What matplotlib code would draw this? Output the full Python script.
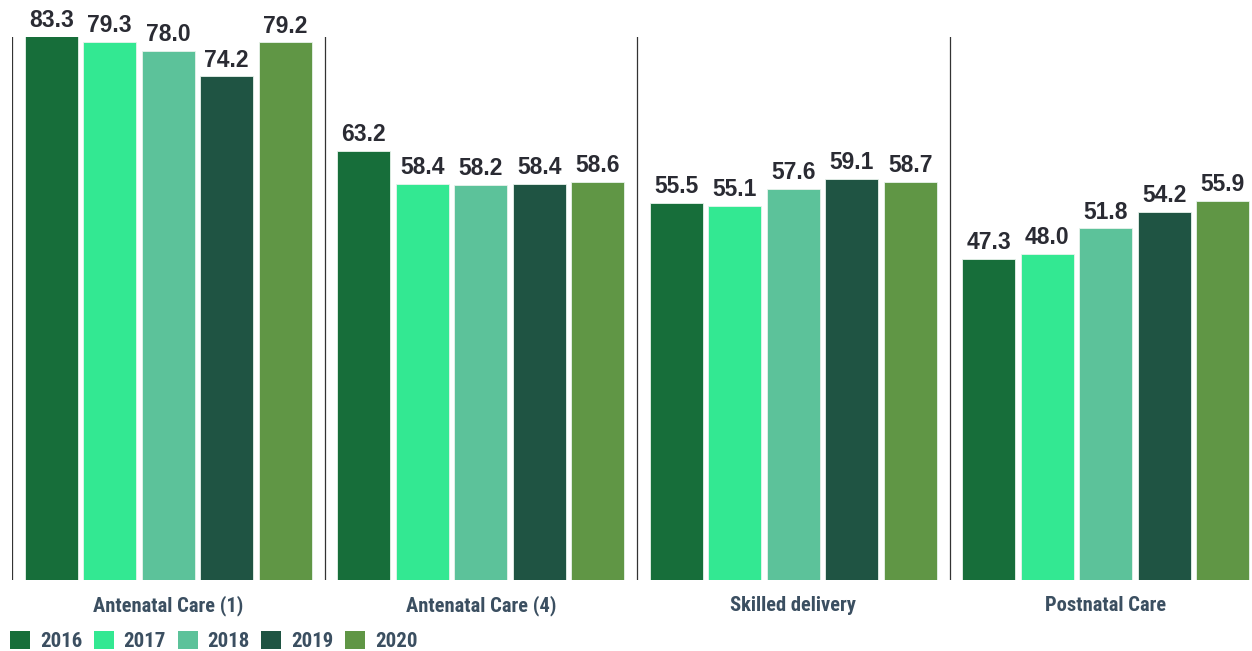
import matplotlib
matplotlib.use("Agg")
import matplotlib.pyplot as plt
from matplotlib.patches import Patch
import numpy as np

categories = ["Antenatal Care (1)", "Antenatal Care (4)", "Skilled delivery", "Postnatal Care"]
years = ["2016", "2017", "2018", "2019", "2020"]
v2016 = [83.3, 63.2, 55.5, 47.3]
v2017 = [79.3, 58.4, 55.1, 48.0]
v2018 = [78.0, 58.2, 57.6, 51.8]
v2019 = [74.2, 58.4, 59.1, 54.2]
v2020 = [79.2, 58.6, 58.7, 55.9]
series = [v2016, v2017, v2018, v2019, v2020]
colors = ["#176e3a", "#33e892", "#5cc29a", "#1f5443", "#609645"]

YMAX = 80
W, H = 1252, 651
fig = plt.figure(figsize=(W / 100, H / 100), dpi=100)
ax = fig.add_axes([12 / W, (H - 580) / H, 1250 / W, 543 / H])

narrow = ["Liberation Sans Narrow", "Roboto Condensed", "DejaVu Sans"]
valfont = ["Liberation Sans", "DejaVu Sans"]
label_col = "#3b4f61"
val_col = "#2a2b33"

x = np.arange(len(categories))
step = 0.187
bw = 0.170
for i, (vals, c) in enumerate(zip(series, colors)):
    pos = x + (i - 2) * step
    ax.bar(pos, vals, width=bw, color=c, edgecolor="#e8f3ec", linewidth=0.6, label=years[i])
    for p, v in zip(pos, vals):
        ax.annotate(f"{v:.1f}", (p, min(v, YMAX)), xytext=(0, 3.5), textcoords="offset points",
                    ha="center", va="bottom", fontsize=16.5, fontweight="bold",
                    color=val_col, family=valfont, annotation_clip=False)

for s in np.arange(-0.5, len(categories)):
    ax.axvline(s, color="#333333", linewidth=0.9)

for xi, cat in zip(x, categories):
    ax.annotate(cat, (xi, 0), xytext=(0, -18.5), textcoords="offset points",
                ha="center", va="center", fontsize=14.8, fontweight="bold",
                color=label_col, family=narrow, annotation_clip=False)

ax.set_xlim(-0.5, len(categories) - 0.5)
ax.set_ylim(0, YMAX)
for sp in ax.spines.values():
    sp.set_visible(False)
ax.set_xticks([])
ax.set_yticks([])

handles = [Patch(facecolor=c, edgecolor="none") for c in colors]
leg = fig.legend(handles, years, loc="center left", bbox_to_anchor=(10 / W, 10 / H),
                 ncol=5, frameon=False, handlelength=0.96, handleheight=0.96,
                 handletextpad=0.47, columnspacing=0.56, borderpad=0, borderaxespad=0,
                 prop={"family": narrow, "weight": "bold", "size": 15})
for t in leg.get_texts():
    t.set_color(label_col)

fig.savefig("out.png", dpi=100)
